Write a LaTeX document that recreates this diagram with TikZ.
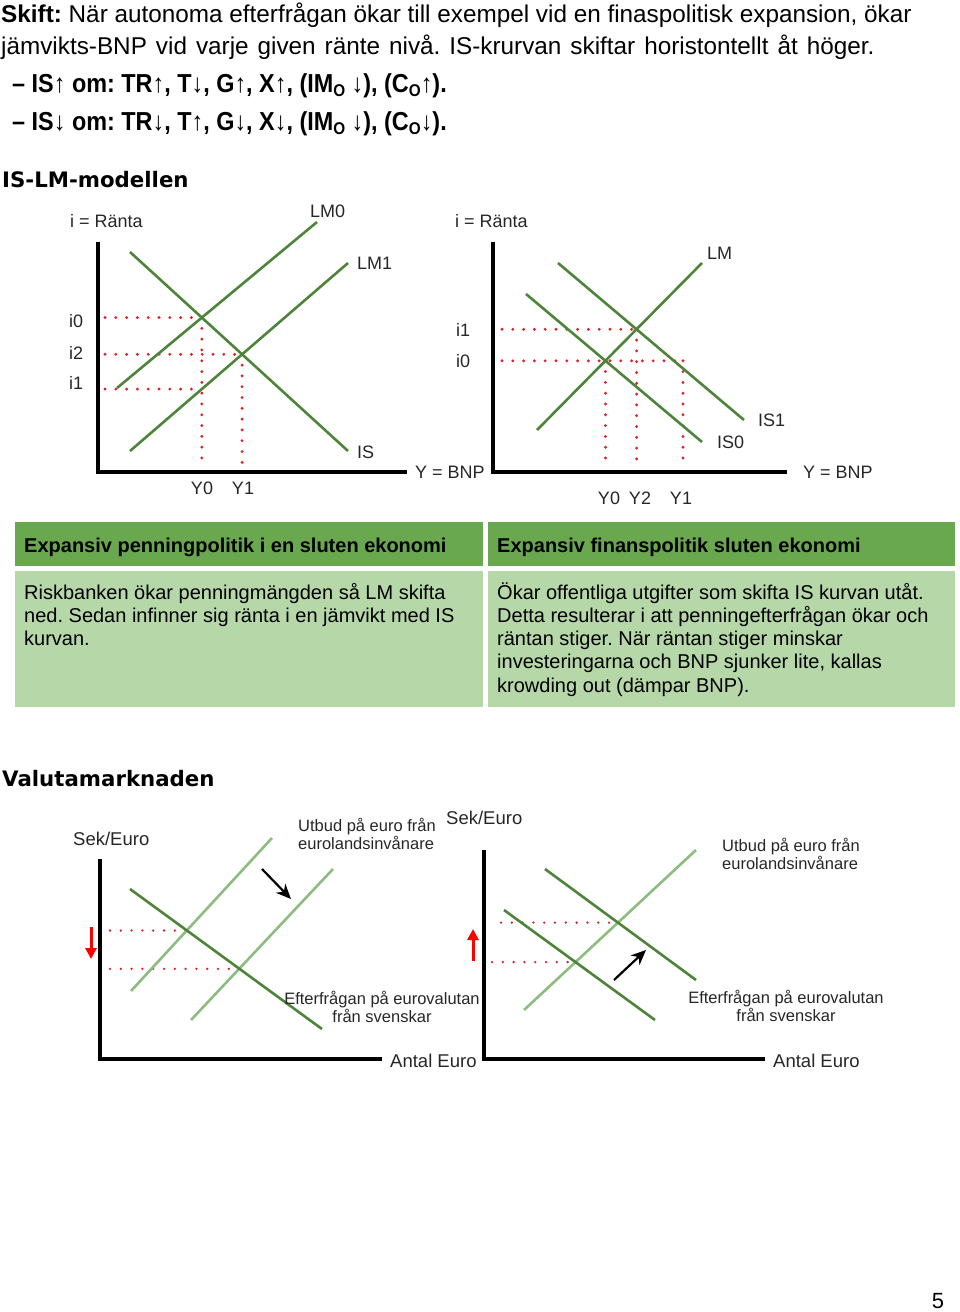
\documentclass[tikz,border=0pt]{standalone}
\usepackage{fontspec}
\setmainfont{Liberation Sans}
\newfontfamily\headfont{DejaVu Sans}
\usetikzlibrary{arrows.meta}
\definecolor{hdr}{RGB}{106,168,79}
\definecolor{bdy}{RGB}{182,215,168}
\definecolor{dkg}{RGB}{78,132,58}
\definecolor{ltg}{RGB}{140,188,128}
\definecolor{dotred}{RGB}{220,35,35}
\newcommand{\myup}{{\mdseries ↑}}
\newcommand{\mydn}{{\mdseries ↓}}
\newcommand{\subO}{\raisebox{-0.32ex}{\fontsize{17}{17}\selectfont O}}
\frenchspacing
\begin{document}
\begin{tikzpicture}[x=1pt,y=-1pt,
  axisline/.style={line width=4pt,black,line join=miter},
  curve/.style={line width=2.6pt,dkg},
  supcurve/.style={line width=2.6pt,ltg},
  dots/.style={dotred,line width=3.2pt,line cap=round,dash pattern=on 0pt off 10.8pt},
  txt/.style={inner sep=0pt,font=\fontsize{24.3}{26}\selectfont},
  bul/.style={inner sep=0pt,font=\fontsize{26}{28}\selectfont\bfseries},
  head/.style={inner sep=0pt,font=\headfont\fontsize{21.3}{24}\selectfont\bfseries},
  lbl/.style={inner sep=0pt,text=black!85,font=\fontsize{18}{20}\selectfont},
  clbl/.style={inner sep=0pt,text=black!85,font=\fontsize{16.5}{18.5}\selectfont},
  thdr/.style={inner sep=0pt,font=\fontsize{20}{23}\selectfont\bfseries},
  tbody/.style={inner sep=0pt,font=\fontsize{20}{23}\selectfont},
  blackarrow/.style={line width=2.2pt,black,-{Stealth[length=15pt,width=13pt]}},
  redarrow/.style={line width=3pt,red,-{Triangle[length=11pt,width=11pt]}}
]
\useasboundingbox (0,0) rectangle (960,1312);

% ---------- top text ----------
\node[txt,anchor=base west] (t1) at (1,22) {\textbf{Skift:} När autonoma efterfrågan ökar till exempel vid en finaspolitisk expansion, ökar};
\node[txt,anchor=base west] (t2) at (1,54) {\spaceskip=0.37em jämvikts-BNP vid varje given ränte nivå. IS-krurvan skiftar horistontellt åt höger.};
\node[bul,anchor=base west] (b1) at (12,92) {\scalebox{0.9}[1]{– IS\myup{} om: TR\myup, T\mydn, G\myup, X\myup, (IM\subO{} \mydn), (C\subO\myup).}};
\node[bul,anchor=base west] (b2) at (12,130) {\scalebox{0.9}[1]{– IS\mydn{} om: TR\mydn, T\myup, G\mydn, X\mydn, (IM\subO{} \mydn), (C\subO\mydn).}};

\node[head,anchor=base west] (h1) at (2,187) {IS-LM-modellen};

% ---------- left IS-LM ----------
\coordinate (La) at (98,242); \coordinate (Lo) at (98,472); \coordinate (Lr) at (407,472);
\draw[axisline] (La) -- (Lo) -- (Lr);
\coordinate (IS1a) at (130,252); \coordinate (IS1b) at (348,451);
\coordinate (LM0a) at (117,388); \coordinate (LM0b) at (317,222);
\coordinate (LM1a) at (130,451); \coordinate (LM1b) at (348,263);
\coordinate (LE0) at (intersection of IS1a--IS1b and LM0a--LM0b);
\coordinate (LE1) at (intersection of IS1a--IS1b and LM1a--LM1b);
\coordinate (LX) at (105,0); \coordinate (LB) at (0,463);
\coordinate (LE2) at (intersection of LM1a--LM1b and LE0--{LE0|-LB});
\draw[dots] (LX|-LE0) -- (LE0);
\draw[dots] (LX|-LE1) -- (LE1);
\draw[dots] (LX|-LE2) -- (LE2);
\draw[dots] (LE0) -- (LE0|-LB);
\draw[dots] (LE1) -- (LE1|-LB);
\draw[curve] (IS1a) -- (IS1b);
\draw[curve] (LM0a) -- (LM0b);
\draw[curve] (LM1a) -- (LM1b);
\node[lbl,anchor=west] (l1) at (70,221) {i = Ränta};
\node[lbl,anchor=west] (l2) at (310,211) {LM0};
\node[lbl,anchor=west] (l3) at (357,263) {LM1};
\node[lbl,anchor=west] (l4) at (357,452) {IS};
\node[lbl,anchor=west] (l5) at (415,472) {Y = BNP};
\node[lbl] (l6) at (202,488) {Y0};
\node[lbl] (l7) at (243,488) {Y1};
\node[lbl,anchor=west] (l8) at (69,321) {i0};
\node[lbl,anchor=west] (l9) at (69,353) {i2};
\node[lbl,anchor=west] (l10) at (69,383) {i1};

% ---------- right IS-LM ----------
\coordinate (Ra) at (493,242); \coordinate (Ro) at (493,472); \coordinate (Rr) at (787,472);
\draw[axisline] (Ra) -- (Ro) -- (Rr);
\coordinate (RLMa) at (537,430); \coordinate (RLMb) at (702,263);
\coordinate (RIS0a) at (526,294); \coordinate (RIS0b) at (702,442);
\coordinate (RIS1a) at (558,263); \coordinate (RIS1b) at (744,420);
\coordinate (RE0) at (intersection of RIS0a--RIS0b and RLMa--RLMb);
\coordinate (RE1) at (intersection of RIS1a--RIS1b and RLMa--RLMb);
\coordinate (RX) at (502,0); \coordinate (RB) at (0,463); \coordinate (RY1) at (683,0);
\draw[dots] (RX|-RE1) -- (RE1);
\draw[dots] (RX|-RE0) -- (RY1|-RE0);
\draw[dots] (RE0) -- (RE0|-RB);
\draw[dots] (RE1) -- (RE1|-RB);
\draw[dots] (RY1|-RE0) -- (RY1|-RB);
\draw[curve] (RLMa) -- (RLMb);
\draw[curve] (RIS0a) -- (RIS0b);
\draw[curve] (RIS1a) -- (RIS1b);
\node[lbl,anchor=west] (r1) at (455,221) {i = Ränta};
\node[lbl,anchor=west] (r2) at (707,253) {LM};
\node[lbl,anchor=west] (r3) at (758,420) {IS1};
\node[lbl,anchor=west] (r4) at (717,442) {IS0};
\node[lbl,anchor=west] (r5) at (803,472) {Y = BNP};
\node[lbl] (r6) at (609,498) {Y0};
\node[lbl] (r7) at (640,498) {Y2};
\node[lbl] (r8) at (681,498) {Y1};
\node[lbl,anchor=west] (r9) at (456,330) {i1};
\node[lbl,anchor=west] (r10) at (456,361) {i0};

% ---------- table ----------
\fill[hdr] (15,522) rectangle (483,566);
\fill[bdy] (15,571) rectangle (483,707);
\fill[hdr] (488,522) rectangle (955,566);
\fill[bdy] (488,571) rectangle (955,707);
\node[thdr,anchor=base west] (th1) at (24,552) {Expansiv penningpolitik i en sluten ekonomi};
\node[thdr,anchor=base west] (th2) at (497,552) {Expansiv finanspolitik sluten ekonomi};
\node[tbody,anchor=base west] (tb1) at (24,599) {Riskbanken ökar penningmängden så LM skifta};
\node[tbody,anchor=base west] (tb2) at (24,622) {ned. Sedan infinner sig ränta i en jämvikt med IS};
\node[tbody,anchor=base west] (tb3) at (24,645) {kurvan.};
\node[tbody,anchor=base west] (tc1) at (497,599) {Ökar offentliga utgifter som skifta IS kurvan utåt.};
\node[tbody,anchor=base west] (tc2) at (497,622) {Detta resulterar i att penningefterfrågan ökar och};
\node[tbody,anchor=base west] (tc3) at (497,645) {räntan stiger. När räntan stiger minskar};
\node[tbody,anchor=base west] (tc4) at (497,668) {investeringarna och BNP sjunker lite, kallas};
\node[tbody,anchor=base west] (tc5) at (497,692) {krowding out (dämpar BNP).};

\node[head,anchor=base west] (h2) at (2,786) {Valutamarknaden};

% ---------- left currency ----------
\coordinate (Ca) at (100,859); \coordinate (Co) at (100,1059); \coordinate (Cr) at (382,1059);
\draw[axisline] (Ca) -- (Co) -- (Cr);
\coordinate (CDa) at (130,889); \coordinate (CDb) at (322,1029);
\coordinate (CS1a) at (131,991); \coordinate (CS1b) at (272,838);
\coordinate (CS2a) at (191,1020); \coordinate (CS2b) at (333,869);
\coordinate (CE1) at (intersection of CDa--CDb and CS1a--CS1b);
\coordinate (CE2) at (intersection of CDa--CDb and CS2a--CS2b);
\coordinate (CX) at (110,0);
\draw[dots,line width=2.6pt] (CX|-CE1) -- (CE1);
\draw[dots,line width=2.6pt] (CX|-CE2) -- (CE2);
\draw[supcurve] (CS1a) -- (CS1b);
\draw[supcurve] (CS2a) -- (CS2b);
\draw[curve] (CDa) -- (CDb);
\coordinate (CAa) at (262,869); \coordinate (CAb) at (291,899);
\draw[blackarrow] (CAa) -- (CAb);
\coordinate (CRa) at (91,927); \coordinate (CRb) at (91,959);
\draw[redarrow] (CRa) -- (CRb);
\node[lbl,font=\fontsize{18.5}{20}\selectfont,anchor=west] (c1) at (73,839) {Sek/Euro};
\node[clbl,align=left,anchor=west] (c2) at (298,834) {Utbud på euro från\\eurolandsinvånare};
\node[clbl,align=center] (c3) at (382,1007) {Efterfrågan på eurovalutan\\från svenskar};
\node[lbl,font=\fontsize{18.5}{20}\selectfont,anchor=west] (c4) at (390,1061) {Antal Euro};

% ---------- right currency ----------
\coordinate (Da) at (484,850); \coordinate (Do) at (484,1059); \coordinate (Dr) at (765,1059);
\draw[axisline] (Da) -- (Do) -- (Dr);
\coordinate (DSa) at (524,1010); \coordinate (DSb) at (696,850);
\coordinate (DD0a) at (504,910); \coordinate (DD0b) at (655,1020);
\coordinate (DD1a) at (545,869); \coordinate (DD1b) at (696,980);
\coordinate (DE0) at (intersection of DD0a--DD0b and DSa--DSb);
\coordinate (DE1) at (intersection of DD1a--DD1b and DSa--DSb);
\coordinate (DX1) at (501,0); \coordinate (DX0) at (492,0);
\draw[dots,line width=2.6pt] (DX1|-DE1) -- (DE1);
\draw[dots,line width=2.6pt] (DX0|-DE0) -- (DE0);
\draw[supcurve] (DSa) -- (DSb);
\draw[curve] (DD0a) -- (DD0b);
\draw[curve] (DD1a) -- (DD1b);
\coordinate (DAa) at (614,980); \coordinate (DAb) at (646,950);
\draw[blackarrow] (DAa) -- (DAb);
\coordinate (DRa) at (473,961); \coordinate (DRb) at (473,929);
\draw[redarrow] (DRa) -- (DRb);
\node[lbl,font=\fontsize{18.5}{20}\selectfont,anchor=west] (d1) at (446,818) {Sek/Euro};
\node[clbl,align=left,anchor=west] (d2) at (722,854) {Utbud på euro från\\eurolandsinvånare};
\node[clbl,align=center] (d3) at (786,1006) {Efterfrågan på eurovalutan\\från svenskar};
\node[lbl,font=\fontsize{18.5}{20}\selectfont,anchor=west] (d4) at (773,1061) {Antal Euro};

\node[inner sep=0pt,font=\fontsize{22}{24}\selectfont,anchor=base] (pg) at (938,1308) {5};
\end{tikzpicture}
\end{document}
